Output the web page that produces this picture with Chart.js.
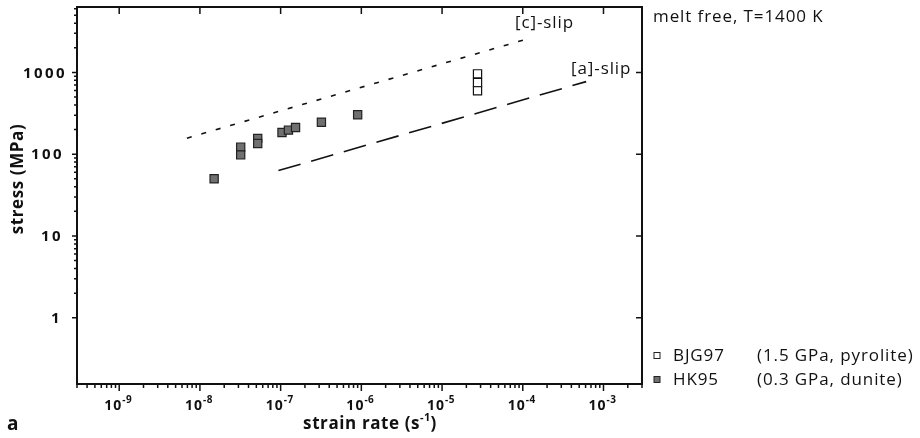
<!DOCTYPE html>
<html>
<head>
<meta charset="utf-8">
<script src="https://cdn.jsdelivr.net/npm/chart.js@4/dist/chart.umd.min.js"></script>
<style>
  html, body { margin: 0; padding: 0; background: #fff; }
  canvas { display: block; }
</style>
</head>
<body>
<canvas id="flowChart" width="920" height="438"></canvas>
<script>
// ===== Data =====
const rateTicks = [1e-9, 1e-8, 1e-7, 1e-6, 1e-5, 1e-4, 1e-3];
const rateTickExp = ['-9', '-8', '-7', '-6', '-5', '-4', '-3'];
const stressTicks = [1, 10, 100, 1000];
const stressTickLabels = ['1', '10', '100', '1000'];

const bjgRate = [2.75e-5, 2.75e-5, 2.75e-5];
const bjgStress = [960, 750, 595];

const hkRate = [1.5e-8, 3.2e-8, 3.2e-8, 5.2e-8, 5.2e-8, 1.04e-7, 1.25e-7, 1.53e-7, 3.2e-7, 9.0e-7];
const hkStress = [50, 122, 98, 156, 135, 184, 197, 212, 246, 303];

const cSlipRate = [6.9e-9, 1.07e-4];
const cSlipStress = [157, 2520];
const aSlipRate = [9.4e-8, 6.1e-4];
const aSlipStress = [63, 771];

const toPts = (xs, ys) => xs.map((x, i) => ({ x: x, y: ys[i] }));

const INK = '#111';
const FONT = '"Open Sans", "Noto Sans", sans-serif';
// left edge of each stress label, as placed in the original figure
const stressLabelX = [51, 41, 31, 23];

function setFont(ctx, font, spacing) {
  ctx.font = font;
  ctx.letterSpacing = (spacing || 0) + 'px';
}

// ===== Axes, ticks and labels drawn from the scales =====
const framePlugin = {
  id: 'frame',
  afterDraw(chart) {
    const ctx = chart.ctx;
    const a = chart.chartArea;
    const xs = chart.scales.x, ys = chart.scales.y;
    ctx.save();
    ctx.strokeStyle = INK;
    ctx.fillStyle = INK;

    // frame
    ctx.lineWidth = 2;
    ctx.strokeRect(a.left, a.top, a.right - a.left, a.bottom - a.top);

    ctx.lineWidth = 1.5;
    ctx.beginPath();
    // bottom: major + minor outward
    for (let e = -10; e <= -3; e++) {
      for (let m = 1; m <= 9; m++) {
        const v = m * Math.pow(10, e);
        if (v < xs.min || v > xs.max) continue;
        const px = xs.getPixelForValue(v);
        const len = m === 1 ? 7 : 4;
        ctx.moveTo(px, a.bottom);
        ctx.lineTo(px, a.bottom + len);
      }
    }
    // top: majors inward
    rateTicks.forEach(v => {
      const px = xs.getPixelForValue(v);
      ctx.moveTo(px, a.top);
      ctx.lineTo(px, a.top + 7);
    });
    // left: major + minor outward
    for (let e = 0; e <= 3; e++) {
      for (let m = 1; m <= 9; m++) {
        const v = m * Math.pow(10, e);
        if (v < ys.min || v > ys.max) continue;
        const py = ys.getPixelForValue(v);
        const len = m === 1 ? 5 : 3;
        ctx.moveTo(a.left, py);
        ctx.lineTo(a.left - len, py);
      }
    }
    // right: majors inward
    stressTicks.forEach(v => {
      const py = ys.getPixelForValue(v);
      ctx.moveTo(a.right, py);
      ctx.lineTo(a.right - 6, py);
    });
    ctx.stroke();

    // y tick labels
    setFont(ctx, 'bold 15px ' + FONT, 2.4);
    ctx.textAlign = 'left';
    ctx.textBaseline = 'middle';
    stressTicks.forEach((v, i) => {
      ctx.fillText(stressTickLabels[i], stressLabelX[i], ys.getPixelForValue(v) + 1);
    });

    // x tick labels: 10 with superscript exponent
    ctx.textBaseline = 'alphabetic';
    ctx.textAlign = 'left';
    rateTicks.forEach((v, i) => {
      const px = xs.getPixelForValue(v);
      setFont(ctx, 'bold 14px ' + FONT, 1);
      const wBase = ctx.measureText('10').width;
      setFont(ctx, 'bold 10px ' + FONT, 0.5);
      const wExp = ctx.measureText(rateTickExp[i]).width;
      const x0 = px - (wBase + wExp) / 2 - 1;
      setFont(ctx, 'bold 14px ' + FONT, 1);
      ctx.fillText('10', x0, 410);
      setFont(ctx, 'bold 10px ' + FONT, 0.5);
      ctx.fillText(rateTickExp[i], x0 + wBase, 403);
    });

    // axis titles
    setFont(ctx, 'bold 17px ' + FONT, 0.6);
    const t1 = 'strain rate (s';
    const w1 = ctx.measureText(t1).width;
    setFont(ctx, 'bold 11px ' + FONT, 0.3);
    const w2 = ctx.measureText('-1').width;
    setFont(ctx, 'bold 17px ' + FONT, 0.6);
    const w3 = ctx.measureText(')').width;
    const tx = 370 - (w1 + w2 + w3) / 2;
    ctx.fillText(t1, tx, 429);
    setFont(ctx, 'bold 11px ' + FONT, 0.3);
    ctx.fillText('-1', tx + w1, 421);
    setFont(ctx, 'bold 17px ' + FONT, 0.6);
    ctx.fillText(')', tx + w1 + w2, 429);

    ctx.save();
    ctx.translate(18, 179);
    ctx.rotate(-Math.PI / 2);
    ctx.textAlign = 'center';
    ctx.textBaseline = 'middle';
    ctx.fillText('stress (MPa)', 0, 0);
    ctx.restore();

    setFont(ctx, 'bold 19px ' + FONT, 0);
    ctx.textAlign = 'left';
    ctx.fillText('a', 7, 430);

    // annotations
    setFont(ctx, '17px ' + FONT, 0.9);
    ctx.fillText('[c]-slip', 515, 28);
    ctx.fillText('[a]-slip', 571, 74);
    ctx.fillText('melt free, T=1400 K', 653, 22);

    // legend
    ctx.lineWidth = 1;
    ctx.strokeStyle = '#222';
    ctx.fillStyle = '#fff';
    ctx.fillRect(654, 352.5, 6, 6);
    ctx.strokeRect(654, 352.5, 6, 6);
    ctx.fillStyle = '#707070';
    ctx.fillRect(654, 376.5, 6, 6);
    ctx.strokeRect(654, 376.5, 6, 6);
    ctx.fillStyle = INK;
    ctx.textBaseline = 'middle';
    ctx.fillText('BJG97', 673, 356);
    ctx.fillText('HK95', 673, 380);
    ctx.fillText('(1.5 GPa, pyrolite)', 757, 356);
    ctx.fillText('(0.3 GPa, dunite)', 757, 380);
    ctx.restore();
  }
};

new Chart(document.getElementById('flowChart'), {
  type: 'scatter',
  data: {
    datasets: [
      {
        label: '[c]-slip',
        data: toPts(cSlipRate, cSlipStress),
        showLine: true,
        borderColor: INK,
        borderWidth: 1.6,
        borderDash: [5, 10],
        pointRadius: 0
      },
      {
        label: '[a]-slip',
        data: toPts(aSlipRate, aSlipStress),
        showLine: true,
        borderColor: INK,
        borderWidth: 1.6,
        borderDash: [23, 11],
        pointRadius: 0
      },
      {
        label: 'HK95',
        data: toPts(hkRate, hkStress),
        pointStyle: 'rect',
        pointRadius: 5.8,
        backgroundColor: '#707070',
        borderColor: '#222',
        borderWidth: 1.2
      },
      {
        label: 'BJG97',
        data: toPts(bjgRate, bjgStress),
        pointStyle: 'rect',
        pointRadius: 5.8,
        backgroundColor: '#fff',
        borderColor: '#111',
        borderWidth: 1.2
      }
    ]
  },
  options: {
    responsive: false,
    animation: false,
    devicePixelRatio: 1,
    layout: { padding: { left: 0, top: 5, right: 278, bottom: 0 } },
    plugins: { legend: { display: false }, tooltip: { enabled: false } },
    scales: {
      x: {
        type: 'logarithmic',
        min: 3e-10, max: 3e-3,
        ticks: { display: false },
        grid: { display: false },
        border: { display: false },
        afterFit: s => { s.height = 54; }
      },
      y: {
        type: 'logarithmic',
        min: 0.155, max: 6300,
        ticks: { display: false },
        grid: { display: false },
        border: { display: false },
        afterFit: s => { s.width = 77; }
      }
    }
  },
  plugins: [framePlugin]
});
</script>
</body>
</html>
